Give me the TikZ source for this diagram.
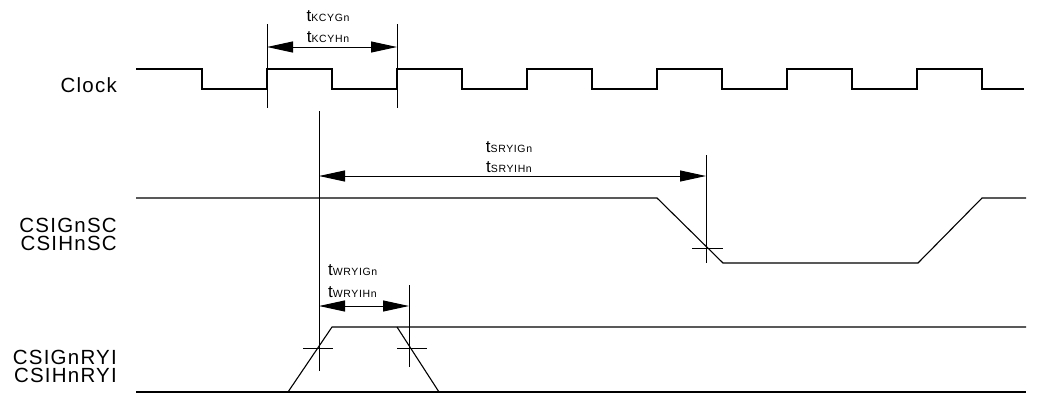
\documentclass[tikz,border=0pt]{standalone}
\usepackage{fontspec}
\setmainfont{Liberation Sans}
\newfontfamily\sigfont[LetterSpace=6]{Liberation Sans}
\usetikzlibrary{arrows.meta,positioning}

% timing name: a large t followed by a small index
\newcommand{\tname}[1]{{\sigfont\fontsize{17}{17}\selectfont t}{\sigfont\fontsize{10.5}{10.5}\selectfont #1}}

\begin{document}
\begin{tikzpicture}[x=1pt,y=-1pt]
        % Setup the styles for waves, marks and labels
        \tikzset{wave/.style={line width=1.1pt},
                 mark line/.style={line width=1pt},
                 dim arrow/.style={line width=1pt,
                                   {Triangle[length=26pt,width=11pt]}-{Triangle[length=26pt,width=11pt]}},
                 sig label/.style={anchor=north east, inner sep=0pt, align=right,
                                   font=\sigfont\fontsize{20.5}{18.8}\selectfont},
                 time label/.style={anchor=base, inner sep=0pt}}
        \useasboundingbox (0,0) rectangle (1040,394);

        % Signal names
        \node[sig label, anchor=base east] (clock) at (117,92) {Clock};
        \node[sig label] (sc)  at (117,217.5) {CSIGnSC\\CSIHnSC};
        \node[sig label] (ryi) at (117,349.5) {CSIGnRYI\\CSIHnRYI};

        % Draw the waves
        \draw[wave] (136,69) \foreach \x in {202,332,...,852}
                {-- (\x,69) -- (\x,89) -- (\x+65,89) -- (\x+65,69)}
                -- (982,69) -- (982,89) -- (1024,89);
        \draw[wave] (136,198) -- (657,198) -- (723,263) -- (918,263)
                -- (982,198) -- (1026,198);
        \draw[wave] (136,392) -- (1026,392);
        \draw[wave] (288,392) -- (332,327) -- (1026,327);
        \draw[wave] (397,327) -- (439,392);

        % Reference points
        \coordinate (kcyA)  at (267,24);   \coordinate (kcyA') at (267,108);
        \coordinate (kcyB)  at (397,24);   \coordinate (kcyB') at (397,108);
        \coordinate (ryiA)  at (319,111);  \coordinate (ryiA') at (319,371);
        \coordinate (ryiB)  at (409,285);  \coordinate (ryiB') at (409,367);
        \coordinate (scA)   at (706,155);  \coordinate (scA')  at (706,263);

        % Vertical marks
        \draw[mark line] (kcyA) -- (kcyA');
        \draw[mark line] (kcyB) -- (kcyB');
        \draw[mark line] (ryiA) -- (ryiA');
        \draw[mark line] (ryiB) -- (ryiB');
        \draw[mark line] (scA)  -- (scA');

        % Crossing marks
        \draw[mark line] ([xshift=-16pt]ryiA |- 0,348) -- ([xshift=14pt]ryiA |- 0,348);
        \draw[mark line] ([xshift=-12pt]ryiB |- 0,348) -- ([xshift=18pt]ryiB |- 0,348);
        \draw[mark line] ([xshift=-14pt]scA |- 0,248)  -- ([xshift=17pt]scA |- 0,248);

        % Timing arrows
        \draw[dim arrow] (kcyA |- 0,47)  -- (kcyB |- 0,47);
        \draw[dim arrow] (ryiA |- 0,176) -- (scA |- 0,176);
        \draw[dim arrow] (ryiA |- 0,306) -- (ryiB |- 0,306);

        % Timing names
        \node[time label] (kcyG) at (328,21.7)  {\tname{KCYGn}};
        \node[time label] (kcyH) at (328,42.5)  {\tname{KCYHn}};
        \node[time label] (sryG) at (509,152)   {\tname{SRYIGn}};
        \node[time label] (sryH) at (509,172.5) {\tname{SRYIHn}};
        \node[time label, anchor=base west] (wryG) at (328,275)   {\tname{WRYIGn}};
        \node[time label, anchor=base west] (wryH) at (328,297.5) {\tname{WRYIHn}};
\end{tikzpicture}
\end{document}
